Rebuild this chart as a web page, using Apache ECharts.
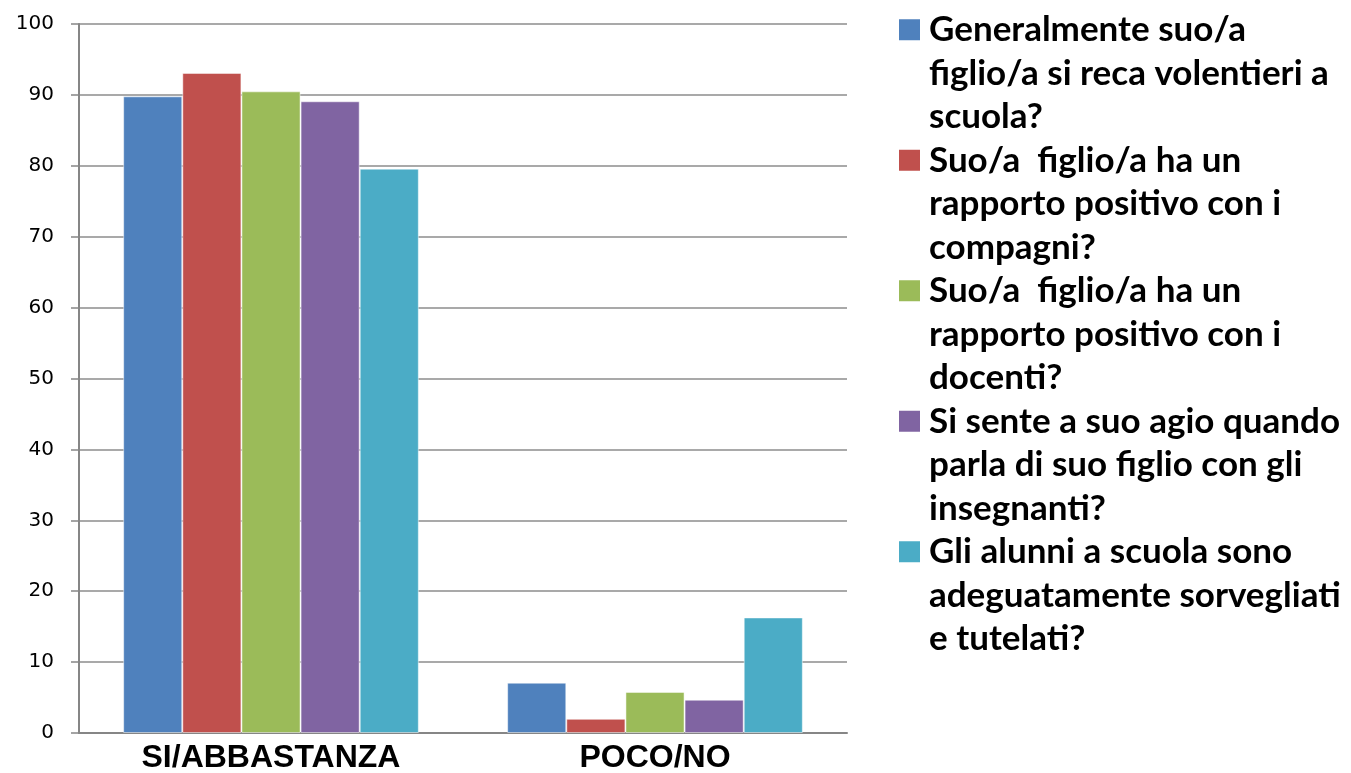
<!DOCTYPE html>
<html><head><meta charset="utf-8">
<script src="https://cdn.jsdelivr.net/npm/echarts@6/dist/echarts.min.js"></script>
<style>html,body{margin:0;padding:0;background:#fff}#c{width:1351px;height:773px}</style>
</head><body><div id="c"></div>
<script>
var categories = ['SI/ABBASTANZA', 'POCO/NO'];
var seriesNames = [
  'Generalmente suo/a\nfiglio/a si reca volentieri a\nscuola?',
  'Suo/a  figlio/a ha un\nrapporto positivo con i\ncompagni?',
  'Suo/a  figlio/a ha un\nrapporto positivo con i\ndocenti?',
  'Si sente a suo agio quando\nparla di suo figlio con gli\ninsegnanti?',
  'Gli alunni a scuola sono\nadeguatamente sorvegliati\ne tutelati?'
];
var s1 = [89.8, 7.1];
var s2 = [93.1, 2.0];
var s3 = [90.5, 5.8];
var s4 = [89.1, 4.7];
var s5 = [79.6, 16.3];
var values = [s1, s2, s3, s4, s5];
var colors = ['#4F81BD', '#C0504D', '#9BBB59', '#8064A2', '#4BACC6'];

var rich = {
  t: {fontFamily: 'Lato', fontWeight: 'bold', fontSize: 35, color: '#000', lineHeight: 43.5},
  ind: {width: 30, height: 10},
  g: {width: 9, height: 10}
};
colors.forEach(function (c, i) {
  rich['s' + i] = {backgroundColor: c, width: 21, height: 21};
});

var chart = echarts.init(document.getElementById('c'));
chart.setOption({
  animation: false,
  color: colors,
  grid: {left: 79, right: 504, top: 24, bottom: 40, outerBoundsMode: 'none', containLabel: false},
  legend: {
    orient: 'vertical', left: 894, top: 8, itemGap: 0, padding: 0,
    icon: 'none', itemWidth: 0, itemHeight: 0,
    data: seriesNames,
    formatter: function (name) {
      var i = seriesNames.indexOf(name);
      var lines = name.split('\n');
      return lines.map(function (l, k) {
        return (k === 0 ? '{s' + i + '|}{g|}' : '{ind|}') + '{t|' + l + '}';
      }).join('\n');
    },
    textStyle: {rich: rich, lineHeight: 43.5, padding: 0}
  },
  xAxis: {
    type: 'category', data: categories,
    axisLine: {lineStyle: {color: '#868686', width: 2}},
    axisTick: {show: false},
    axisLabel: {fontFamily: 'Liberation Sans', fontWeight: 'bold', fontSize: 32, color: '#000', margin: 9}
  },
  yAxis: {
    type: 'value', min: 0, max: 100, interval: 10,
    axisLine: {show: true, lineStyle: {color: '#868686', width: 2}},
    axisTick: {show: true, length: 8, lineStyle: {color: '#868686', width: 1.5}},
    splitLine: {lineStyle: {color: '#8c8c8c', width: 1.5}},
    axisLabel: {fontFamily: 'DejaVu Sans', fontSize: 20, color: '#000', margin: 25}
  },
  series: values.map(function (v, i) {
    return {
      type: 'bar', name: seriesNames[i], data: v,
      barGap: '0%', barCategoryGap: '23%',
      itemStyle: {color: colors[i], borderColor: 'rgba(255,255,255,0.5)', borderWidth: 1}
    };
  })
});
</script></body></html>
